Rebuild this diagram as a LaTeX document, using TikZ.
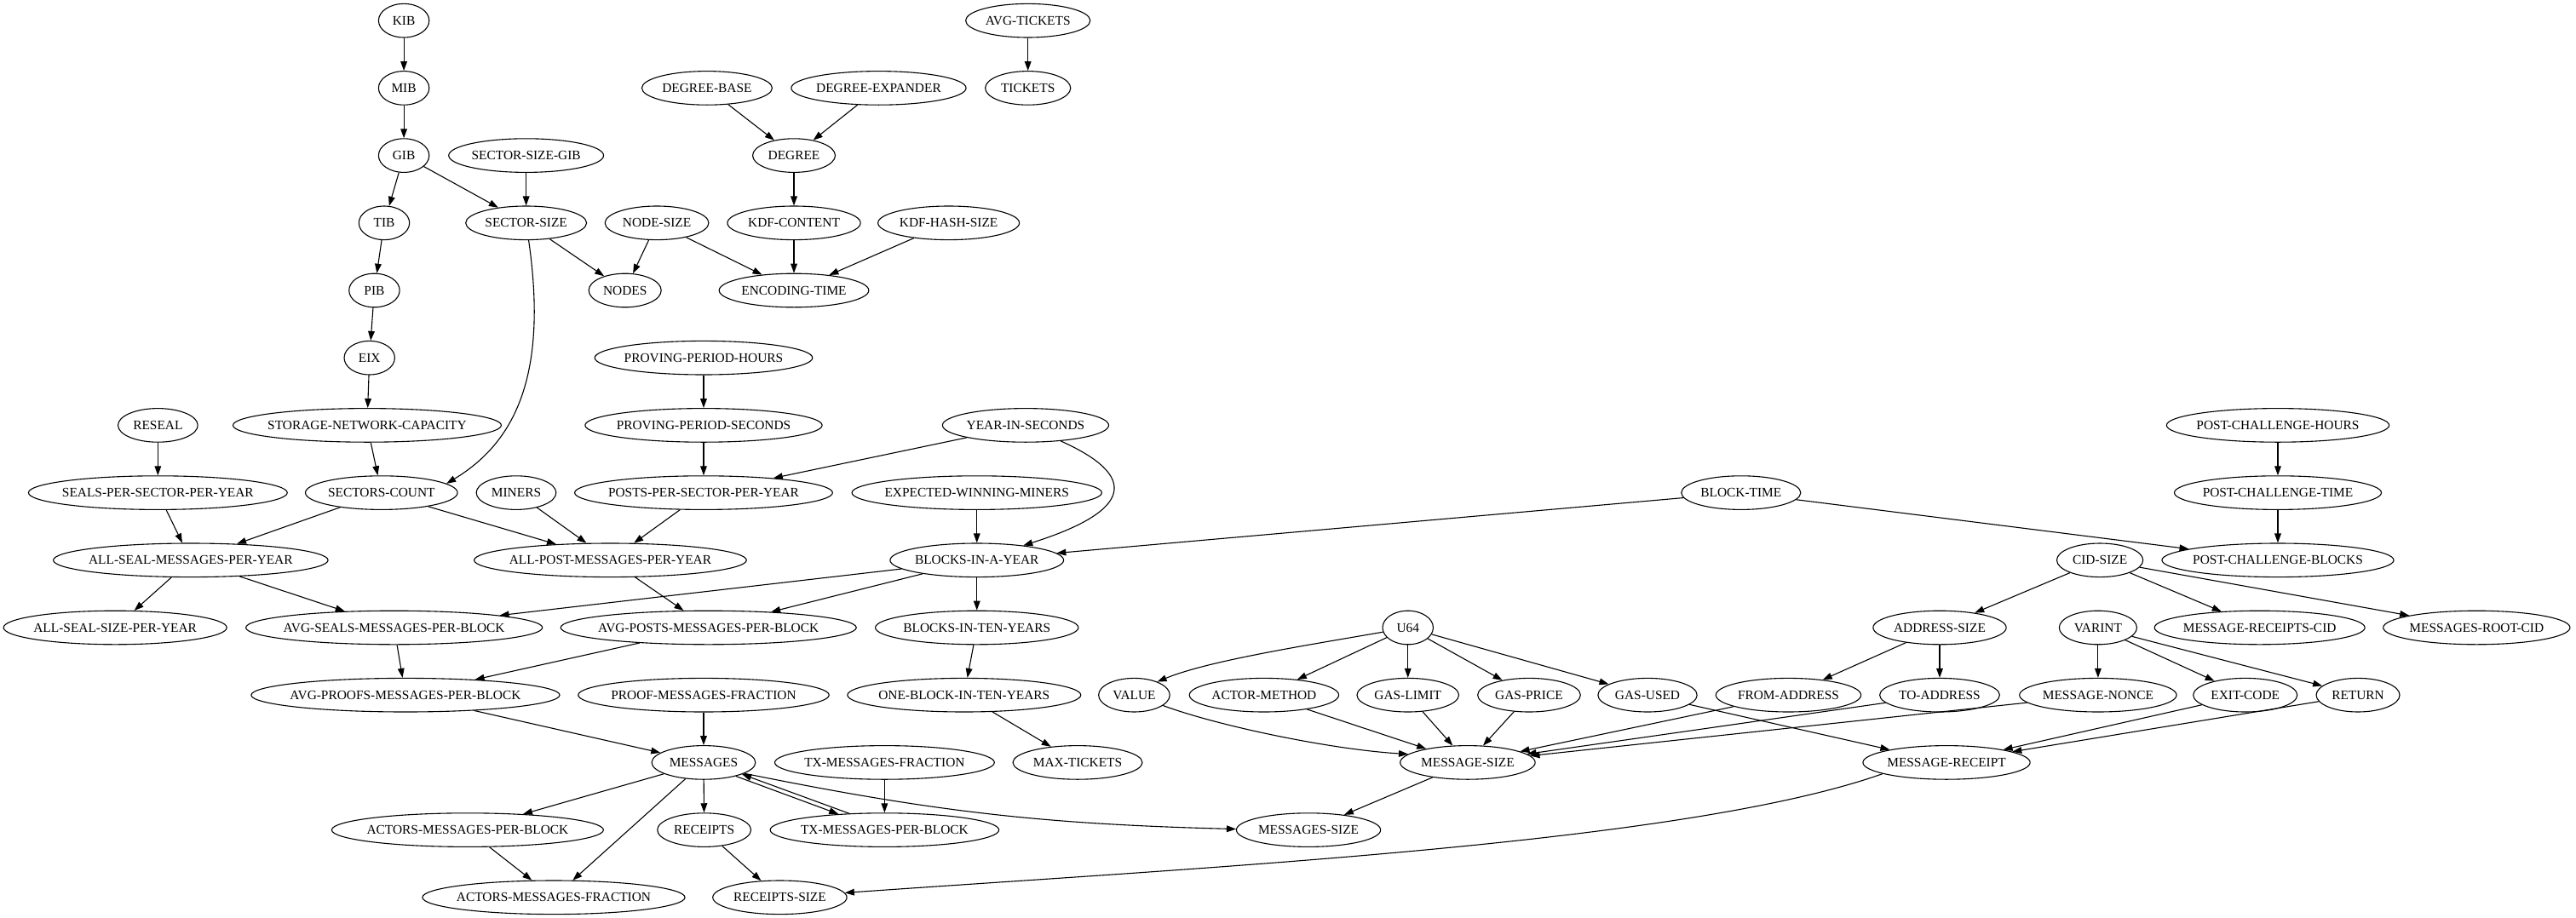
\documentclass[tikz,border=0pt]{standalone}
\usepackage{fontspec}
\setmainfont{Liberation Serif}
\usetikzlibrary{arrows.meta,shapes.geometric}
\tikzset{
  gv/.style={draw, ellipse, line width=1pt, inner sep=0pt, minimum height=36pt, text height=9.3pt, text depth=0pt},
  arr/.style={-{Triangle[length=10pt,width=7pt]}, line width=1pt},
}
\newcommand\gvnode[4]{\node[gv, minimum width={max(54,1.262*width("#4")+18.4)}] (#1) at (#2,#3) {\makebox[0pt]{#4}};}
\begin{document}
\begin{tikzpicture}[x=1pt,y=-1pt]
\fontsize{14pt}{16.8pt}\selectfont
\useasboundingbox (0,0) rectangle (2749.1,980);
% rank 0
\gvnode{kib}{431}{22}{KIB}
\gvnode{avgtickets}{1097}{22}{AVG-TICKETS}
% rank 1
\gvnode{mib}{431}{94}{MIB}
\gvnode{degbase}{754.5}{94}{DEGREE-BASE}
\gvnode{degexp}{937.7}{94}{DEGREE-EXPANDER}
\gvnode{tickets}{1097}{94}{TICKETS}
% rank 2
\gvnode{gib}{431}{166}{GIB}
\gvnode{ssgib}{561.5}{166}{SECTOR-SIZE-GIB}
\gvnode{degree}{847.3}{166}{DEGREE}
% rank 3
\gvnode{tib}{410}{238}{TIB}
\gvnode{secsize}{561.5}{238}{SECTOR-SIZE}
\gvnode{nodesize}{701}{238}{NODE-SIZE}
\gvnode{kdfcontent}{847.3}{238}{KDF-CONTENT}
\gvnode{kdfhash}{1012.4}{238}{KDF-HASH-SIZE}
% rank 4
\gvnode{pib}{399.5}{310}{PIB}
\gvnode{nodes}{667}{310}{NODES}
\gvnode{enctime}{847.3}{310}{ENCODING-TIME}
% rank 5
\gvnode{eix}{394.3}{382}{EIX}
\gvnode{pph}{750.9}{382}{PROVING-PERIOD-HOURS}
% rank 6
\gvnode{reseal}{168.5}{454}{RESEAL}
\gvnode{snc}{391.8}{454}{STORAGE-NETWORK-CAPACITY}
\gvnode{pps}{750.9}{454}{PROVING-PERIOD-SECONDS}
\gvnode{yis}{1094.5}{454}{YEAR-IN-SECONDS}
\gvnode{pch}{2430.9}{454}{POST-CHALLENGE-HOURS}
% rank 7
\gvnode{spspy}{168.5}{526}{SEALS-PER-SECTOR-PER-YEAR}
\gvnode{sectorscount}{407.1}{526}{SECTORS-COUNT}
\gvnode{miners}{550.9}{526}{MINERS}
\gvnode{ppspy}{750.9}{526}{POSTS-PER-SECTOR-PER-YEAR}
\gvnode{ewm}{1042.5}{526}{EXPECTED-WINNING-MINERS}
\gvnode{blocktime}{1858}{526}{BLOCK-TIME}
\gvnode{pct}{2430.9}{526}{POST-CHALLENGE-TIME}
% rank 8
\gvnode{asmpy}{203.5}{598}{ALL-SEAL-MESSAGES-PER-YEAR}
\gvnode{apmpy}{651.3}{598}{ALL-POST-MESSAGES-PER-YEAR}
\gvnode{biay}{1042.5}{598}{BLOCKS-IN-A-YEAR}
\gvnode{cidsize}{2241}{598}{CID-SIZE}
\gvnode{pcb}{2430.9}{598}{POST-CHALLENGE-BLOCKS}
% rank 9
\gvnode{assy}{122.9}{670}{ALL-SEAL-SIZE-PER-YEAR}
\gvnode{avgseals}{420.6}{670}{AVG-SEALS-MESSAGES-PER-BLOCK}
\gvnode{avgposts}{756.1}{670}{AVG-POSTS-MESSAGES-PER-BLOCK}
\gvnode{bity}{1042.5}{670}{BLOCKS-IN-TEN-YEARS}
\gvnode{u64}{1502.5}{670}{U64}
\gvnode{addrsize}{2070}{670}{ADDRESS-SIZE}
\gvnode{varint}{2239}{670}{VARINT}
\gvnode{mrcid}{2411.5}{670}{MESSAGE-RECEIPTS-CID}
\gvnode{mrootcid}{2643}{670}{MESSAGES-ROOT-CID}
% rank 10
\gvnode{avgproofs}{432.7}{742}{AVG-PROOFS-MESSAGES-PER-BLOCK}
\gvnode{pmf}{750.9}{742}{PROOF-MESSAGES-FRACTION}
\gvnode{obity}{1028.9}{742}{ONE-BLOCK-IN-TEN-YEARS}
\gvnode{value}{1210.4}{742}{VALUE}
\gvnode{actormethod}{1349}{742}{ACTOR-METHOD}
\gvnode{gaslimit}{1502.5}{742}{GAS-LIMIT}
\gvnode{gasprice}{1631.8}{742}{GAS-PRICE}
\gvnode{gasused}{1758.2}{742}{GAS-USED}
\gvnode{fromaddr}{1908.6}{742}{FROM-ADDRESS}
\gvnode{toaddr}{2070}{742}{TO-ADDRESS}
\gvnode{msgnonce}{2239}{742}{MESSAGE-NONCE}
\gvnode{exitcode}{2396.1}{742}{EXIT-CODE}
\gvnode{ret}{2516.4}{742}{RETURN}
% rank 11
\gvnode{messages}{750.9}{814}{MESSAGES}
\gvnode{txmf}{944}{814}{TX-MESSAGES-FRACTION}
\gvnode{maxtickets}{1150}{814}{MAX-TICKETS}
\gvnode{msgsize}{1566.3}{814}{MESSAGE-SIZE}
\gvnode{msgreceipt}{2077.3}{814}{MESSAGE-RECEIPT}
% rank 12
\gvnode{ampb}{499}{886}{ACTORS-MESSAGES-PER-BLOCK}
\gvnode{receipts}{751.5}{886}{RECEIPTS}
\gvnode{txmpb}{944}{886}{TX-MESSAGES-PER-BLOCK}
\gvnode{messagessize}{1396.4}{886}{MESSAGES-SIZE}
% rank 13
\gvnode{amf}{590.9}{958}{ACTORS-MESSAGES-FRACTION}
\gvnode{receiptssize}{832.2}{958}{RECEIPTS-SIZE}
% edges
\draw[arr] (kib) -- (mib);
\draw[arr] (mib) -- (gib);
\draw[arr] (gib) -- (tib);
\draw[arr] (gib) -- (secsize);
\draw[arr] (ssgib) -- (secsize);
\draw[arr] (tib) -- (pib);
\draw[arr] (pib) -- (eix);
\draw[arr] (eix) -- (snc);
\draw[arr] (secsize) -- (nodes);
\draw[arr] (nodesize) -- (nodes);
\draw[arr] (nodesize) -- (enctime);
\draw[arr] (kdfcontent) -- (enctime);
\draw[arr] (kdfhash) -- (enctime);
\draw[arr] (degbase) -- (degree);
\draw[arr] (degexp) -- (degree);
\draw[arr] (degree) -- (kdfcontent);
\draw[arr] (avgtickets) -- (tickets);
\draw[arr] (secsize) .. controls (585,400) and (550,472) .. (sectorscount.8);
\draw[arr] (snc) -- (sectorscount);
\draw[arr] (reseal) -- (spspy);
\draw[arr] (spspy) -- (asmpy);
\draw[arr] (sectorscount) -- (asmpy);
\draw[arr] (sectorscount) -- (apmpy);
\draw[arr] (miners) -- (apmpy);
\draw[arr] (ppspy) -- (apmpy);
\draw[arr] (pph) -- (pps);
\draw[arr] (pps) -- (ppspy);
\draw[arr] (yis) -- (ppspy);
\draw[arr] (yis) .. controls (1215,508) and (1210,545) .. (biay);
\draw[arr] (ewm) -- (biay);
\draw[arr] (blocktime) -- (biay);
\draw[arr] (blocktime) -- (pcb);
\draw[arr] (pch) -- (pct);
\draw[arr] (pct) -- (pcb);
\draw[arr] (asmpy) -- (assy);
\draw[arr] (asmpy) -- (avgseals);
\draw[arr] (biay) -- (avgseals);
\draw[arr] (biay) -- (avgposts);
\draw[arr] (apmpy) -- (avgposts);
\draw[arr] (biay) -- (bity);
\draw[arr] (avgseals) -- (avgproofs);
\draw[arr] (avgposts) -- (avgproofs);
\draw[arr] (bity) -- (obity);
\draw[arr] (obity) -- (maxtickets);
\draw[arr] (avgproofs) -- (messages);
\draw[arr] (pmf) -- (messages);
\draw[arr] (messages) -- (ampb);
\draw[arr] (messages) -- (amf);
\draw[arr] (messages) -- (receipts);
\draw[arr] (messages.-23) -- (txmpb.161);
\draw[arr] (txmpb.155) -- (messages.-17);
\draw[arr] (messages.-15) to[bend right=5] (messagessize);
\draw[arr] (txmf) -- (txmpb);
\draw[arr] (ampb) -- (amf);
\draw[arr] (receipts) -- (receiptssize);
\draw[arr] (msgsize) -- (messagessize);
\draw[arr] (msgreceipt.190) .. controls (1800,900) and (1300,925) .. (receiptssize);
\draw[arr] (cidsize) -- (addrsize);
\draw[arr] (cidsize) -- (mrcid);
\draw[arr] (cidsize) -- (mrootcid);
\draw[arr] (u64.190) .. controls (1400,688) and (1290,705) .. (value.30);
\draw[arr] (u64) -- (actormethod);
\draw[arr] (u64) -- (gaslimit);
\draw[arr] (u64) -- (gasprice);
\draw[arr] (u64) -- (gasused);
\draw[arr] (addrsize) -- (fromaddr);
\draw[arr] (addrsize) -- (toaddr);
\draw[arr] (varint) -- (msgnonce);
\draw[arr] (varint) -- (exitcode);
\draw[arr] (varint) -- (ret);
\draw[arr] (value.-20) .. controls (1300,775) and (1420,800) .. (msgsize.172);
\draw[arr] (actormethod) -- (msgsize);
\draw[arr] (gaslimit) -- (msgsize);
\draw[arr] (gasprice) -- (msgsize);
\draw[arr] (fromaddr) -- (msgsize);
\draw[arr] (toaddr) -- (msgsize);
\draw[arr] (msgnonce) -- (msgsize);
\draw[arr] (gasused) -- (msgreceipt);
\draw[arr] (exitcode) -- (msgreceipt);
\draw[arr] (ret) -- (msgreceipt);
\end{tikzpicture}
\end{document}
